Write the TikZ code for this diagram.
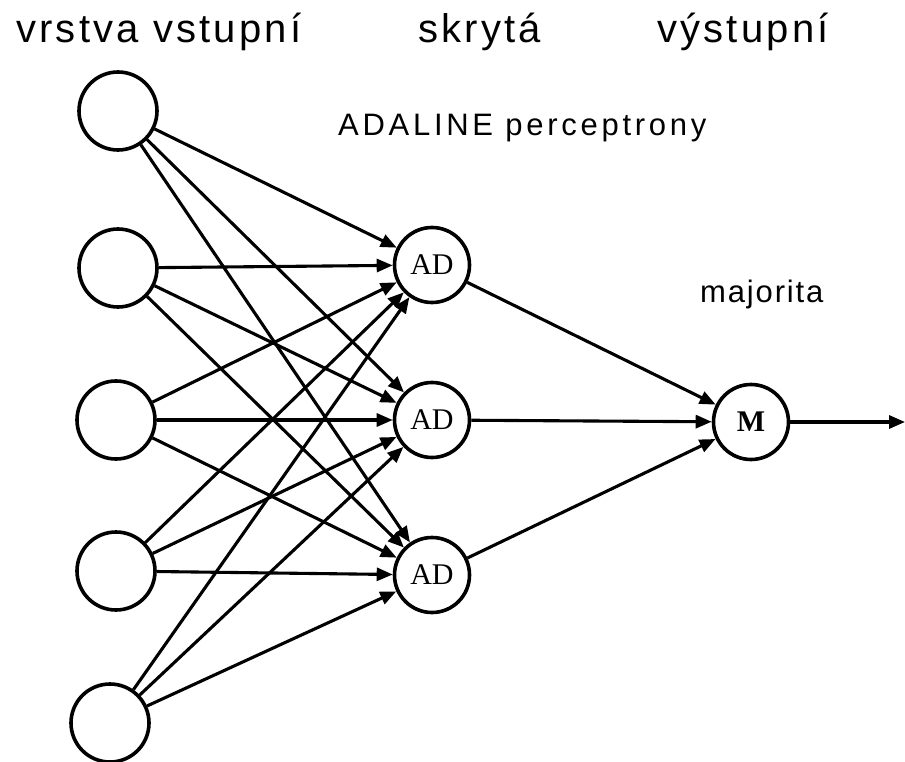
\documentclass[tikz,border=0pt]{standalone}
\usepackage{fontspec}
\setmainfont{Liberation Sans}
\newfontfamily\adfont{Liberation Serif}
\usetikzlibrary{arrows.meta}
\tikzset{
  inp/.style={circle,draw,line width=3.6pt,minimum size=78pt,inner sep=0pt},
  hid/.style={circle,draw,line width=3.6pt,minimum size=75pt,inner sep=0pt,font=\adfont\fontsize{30}{30}\selectfont},
  conn/.style={line width=3.1pt,-{Triangle[length=16pt,width=13pt]}},
  lbl/.style={anchor=base,inner sep=0pt},
  toplbl/.style={lbl,anchor=base west,font=\fontsize{40}{40}\selectfont\addfontfeature{LetterSpace=8}},
}
\begin{document}
\begin{tikzpicture}[x=1pt,y=-1pt]
\useasboundingbox (0,0) rectangle (905,762);
\node[toplbl] (t1) at (16,43) {vrstva vstupní};
\node[toplbl] (t2) at (418,43) {skrytá};
\node[toplbl] (t3) at (657,43) {výstupní};
\node[lbl,anchor=base west,font=\fontsize{31}{31}\selectfont\addfontfeature{LetterSpace=12}] (t4) at (338,136) {ADALINE perceptrony};
\node[lbl,anchor=base west,font=\fontsize{31}{31}\selectfont\addfontfeature{LetterSpace=6}] (t5) at (700,302) {majorita};

\node[inp] (i1) at (118,111) {};
\node[inp] (i2) at (118,268) {};
\node[inp] (i3) at (116,420) {};
\node[inp] (i4) at (116,571) {};
\node[inp] (i5) at (110,723) {};

\node[hid] (h1) at (432,265) {AD};
\node[hid] (h2) at (432,420) {AD};
\node[hid] (h3) at (432,575) {AD};

\node[hid,font=\adfont\bfseries\fontsize{30}{30}\selectfont] (m) at (751,422) {M};
\coordinate (out) at (905,422);

\foreach \i in {1,...,5}{
  \foreach \h in {1,2,3}{
    \draw[conn] (i\i) -- (h\h);
  }
}
\foreach \h in {1,2,3}{
  \draw[conn] (h\h) -- (m);
}
\draw[conn] (m) -- (out);
\end{tikzpicture}
\end{document}
